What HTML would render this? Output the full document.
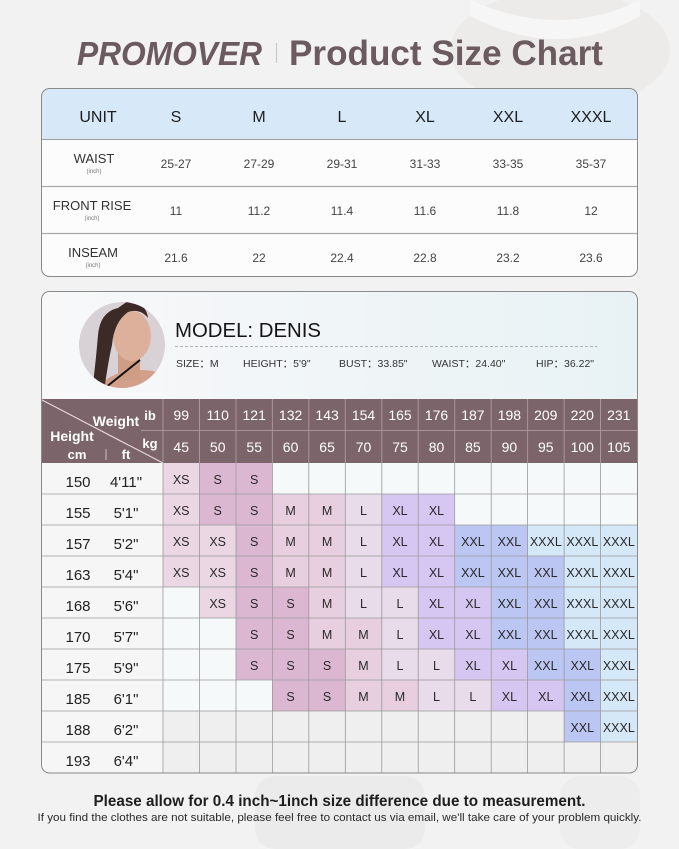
<!DOCTYPE html>
<html><head><meta charset="utf-8"><style>
html,body{margin:0;padding:0;background:#f2f2f2;}
svg{display:block;}
text{font-family:"Liberation Sans","Noto Sans CJK SC",sans-serif;}
.xs{fill:#ebd7e4}.s{fill:#dcb7d2}.m{fill:#e8cfdf}.l{fill:#e8dcea}.xl{fill:#d6c6f2}.xxl{fill:#bcc6f3}.xxxl{fill:#d5e8f8}
.t{font-size:12.5px;fill:#2a2a2a;text-anchor:middle}
.h{font-size:14px;fill:#ffffff;text-anchor:middle}
.c{font-size:15px;fill:#222;text-anchor:middle}
.tv{font-size:12px;fill:#444;text-anchor:middle}
.th{font-size:16px;fill:#1e1e1e;text-anchor:middle}
.tl{font-size:13px;fill:#333;text-anchor:middle}
.ti{font-size:6px;fill:#777;text-anchor:middle}
.st{font-size:10.5px;fill:#333}
</style></head><body>
<svg width="679" height="849" viewBox="0 0 679 849" xmlns="http://www.w3.org/2000/svg">
<defs>
<clipPath id="box2"><rect x="41.5" y="291.5" width="596" height="481.5" rx="8"/></clipPath>
<clipPath id="box1"><rect x="41.5" y="88.5" width="596" height="188" rx="8"/></clipPath>
<clipPath id="av"><circle cx="122" cy="345" r="43"/></clipPath>
<linearGradient id="mg" x1="0" y1="0" x2="1" y2="0"><stop offset="0" stop-color="#f8f8f9"/><stop offset="1" stop-color="#e8f2f5"/></linearGradient>
</defs>
<!-- background -->
<rect width="679" height="849" fill="#f2f2f2"/>
<ellipse cx="560" cy="50" rx="110" ry="60" fill="#ecebea"/>
<path d="M470 0 Q560 40 640 0 L640 16 Q560 62 470 16Z" fill="#f6f6f6"/>
<rect x="255" y="776" width="170" height="73" rx="20" fill="#ebebeb"/>
<rect x="560" y="776" width="80" height="73" rx="20" fill="#ededed"/>

<!-- title -->
<text x="77" y="65" font-size="33" font-weight="bold" font-style="italic" fill="#6b5b61" textLength="185" lengthAdjust="spacingAndGlyphs">PROMOVER</text>
<line x1="276.5" y1="43" x2="276.5" y2="63" stroke="#c9c1c3" stroke-width="1"/>
<text x="289" y="65" font-size="35" font-weight="bold" fill="#6b5b61" textLength="314" lengthAdjust="spacingAndGlyphs">Product Size Chart</text>

<!-- table 1 -->
<g clip-path="url(#box1)">
<rect x="41" y="88" width="597" height="190" fill="#fcfcfc"/>
<rect x="41" y="88" width="597" height="51" fill="#d7e8f8"/>
</g>
<line x1="41.5" y1="139.5" x2="637.5" y2="139.5" stroke="#9aa0a6" stroke-width="1"/>
<line x1="41.5" y1="186.5" x2="637.5" y2="186.5" stroke="#a8a8a8" stroke-width="1.2"/>
<line x1="41.5" y1="233.5" x2="637.5" y2="233.5" stroke="#a8a8a8" stroke-width="1.2"/>
<rect x="41.5" y="88.5" width="596" height="188" rx="8" fill="none" stroke="#8a8a8a" stroke-width="1"/>
<text class="th" x="98" y="122">UNIT</text>
<text class="th" x="176" y="122">S</text>
<text class="th" x="259" y="122">M</text>
<text class="th" x="342" y="122">L</text>
<text class="th" x="425" y="122">XL</text>
<text class="th" x="508" y="122">XXL</text>
<text class="th" x="591" y="122">XXXL</text>

<text class="tl" x="94" y="163">WAIST</text><text class="ti" x="94" y="173">(inch)</text>
<text class="tv" x="176" y="168">25-27</text><text class="tv" x="259" y="168">27-29</text><text class="tv" x="342" y="168">29-31</text><text class="tv" x="425" y="168">31-33</text><text class="tv" x="508" y="168">33-35</text><text class="tv" x="591" y="168">35-37</text>

<text class="tl" x="92" y="210">FRONT RISE</text><text class="ti" x="92" y="220">(inch)</text>
<text class="tv" x="176" y="215">11</text><text class="tv" x="259" y="215">11.2</text><text class="tv" x="342" y="215">11.4</text><text class="tv" x="425" y="215">11.6</text><text class="tv" x="508" y="215">11.8</text><text class="tv" x="591" y="215">12</text>

<text class="tl" x="93" y="257">INSEAM</text><text class="ti" x="93" y="267">(inch)</text>
<text class="tv" x="176" y="262">21.6</text><text class="tv" x="259" y="262">22</text><text class="tv" x="342" y="262">22.4</text><text class="tv" x="425" y="262">22.8</text><text class="tv" x="508" y="262">23.2</text><text class="tv" x="591" y="262">23.6</text>

<!-- box 2 -->
<g clip-path="url(#box2)">
<rect x="41" y="291" width="597" height="108" fill="url(#mg)"/>
<!-- avatar -->
<g clip-path="url(#av)">
<rect x="78" y="300" width="90" height="90" fill="#d8d1d6"/>
<ellipse cx="140" cy="398" rx="45" ry="28" fill="#d2a08a"/>
<rect x="118" y="350" width="22" height="30" fill="#cf9c86"/>
<ellipse cx="132" cy="336" rx="19" ry="25" fill="#ddb09b"/>
<path d="M118 308 Q100 312 98 335 Q96 360 92 392 L104 392 Q108 362 112 345 Q114 322 128 312 Q140 308 148 318 Q146 302 128 301Z" fill="#3b2a25"/>
<path d="M100 392 L140 360" stroke="#111" stroke-width="2"/>
</g>
<text x="175" y="337" font-size="20.5" fill="#141414" textLength="146" lengthAdjust="spacingAndGlyphs">MODEL: DENIS</text>
<line x1="175" y1="346.5" x2="597" y2="346.5" stroke="#9a9a9a" stroke-width="0.8" stroke-dasharray="3 2"/>
<text class="st" x="176" y="367">SIZE：M</text>
<text class="st" x="243" y="367">HEIGHT：5'9"</text>
<text class="st" x="339" y="367">BUST：33.85"</text>
<text class="st" x="432" y="367">WAIST：24.40"</text>
<text class="st" x="536" y="367">HIP：36.22"</text>

<!-- grid header -->
<rect x="41" y="399" width="597" height="64" fill="#7c646b"/>
<line x1="42" y1="400" x2="163" y2="463" stroke="#e2d8db" stroke-width="1.2"/>
<line x1="141" y1="430.5" x2="637" y2="430.5" stroke="#a8969c" stroke-width="1"/>
<g stroke="#a8969c" stroke-width="1">
<line x1="163" y1="399" x2="163" y2="463"/><line x1="199.5" y1="399" x2="199.5" y2="463"/><line x1="236" y1="399" x2="236" y2="463"/><line x1="272.4" y1="399" x2="272.4" y2="463"/><line x1="308.8" y1="399" x2="308.8" y2="463"/><line x1="345.3" y1="399" x2="345.3" y2="463"/><line x1="381.8" y1="399" x2="381.8" y2="463"/><line x1="418.2" y1="399" x2="418.2" y2="463"/><line x1="454.7" y1="399" x2="454.7" y2="463"/><line x1="491.2" y1="399" x2="491.2" y2="463"/><line x1="527.6" y1="399" x2="527.6" y2="463"/><line x1="564.1" y1="399" x2="564.1" y2="463"/><line x1="600.5" y1="399" x2="600.5" y2="463"/>
</g>
<text x="116" y="426" font-size="14" font-weight="bold" fill="#fff" text-anchor="middle">Weight</text>
<text x="150" y="420" font-size="13" font-weight="bold" fill="#fff" text-anchor="middle">ib</text>
<text x="150" y="448" font-size="13" font-weight="bold" fill="#fff" text-anchor="middle">kg</text>
<text x="72" y="441" font-size="14" font-weight="bold" fill="#fff" text-anchor="middle">Height</text>
<text x="77" y="459" font-size="13" font-weight="bold" fill="#fff" text-anchor="middle">cm</text>
<line x1="106" y1="449" x2="106" y2="460" stroke="#cbbfc3" stroke-width="1"/>
<text x="126" y="459" font-size="13" font-weight="bold" fill="#fff" text-anchor="middle">ft</text>

<text class="h" x="181.2" y="420">99</text><text class="h" x="217.7" y="420">110</text><text class="h" x="254.2" y="420">121</text><text class="h" x="290.6" y="420">132</text><text class="h" x="327.1" y="420">143</text><text class="h" x="363.5" y="420">154</text><text class="h" x="400" y="420">165</text><text class="h" x="436.5" y="420">176</text><text class="h" x="472.9" y="420">187</text><text class="h" x="509.4" y="420">198</text><text class="h" x="545.8" y="420">209</text><text class="h" x="582.3" y="420">220</text><text class="h" x="618.8" y="420">231</text>
<text class="h" x="181.2" y="452">45</text><text class="h" x="217.7" y="452">50</text><text class="h" x="254.2" y="452">55</text><text class="h" x="290.6" y="452">60</text><text class="h" x="327.1" y="452">65</text><text class="h" x="363.5" y="452">70</text><text class="h" x="400" y="452">75</text><text class="h" x="436.5" y="452">80</text><text class="h" x="472.9" y="452">85</text><text class="h" x="509.4" y="452">90</text><text class="h" x="545.8" y="452">95</text><text class="h" x="582.3" y="452">100</text><text class="h" x="618.8" y="452">105</text>

<!-- grid body bg -->
<rect x="41" y="463" width="122" height="311" fill="#f6f6f6"/>
<rect x="163" y="463" width="475" height="248" fill="#f6f9fa"/>
<rect x="163" y="711" width="475" height="63" fill="#efeff0"/>

<!-- row 0 -->
<rect class="xs" x="163" y="463" width="36.5" height="31"/><rect class="s" x="199.5" y="463" width="36.5" height="31"/><rect class="s" x="236" y="463" width="36.4" height="31"/>
<!-- row 1 -->
<rect class="xs" x="163" y="494" width="36.5" height="31"/><rect class="s" x="199.5" y="494" width="36.5" height="31"/><rect class="s" x="236" y="494" width="36.4" height="31"/><rect class="m" x="272.4" y="494" width="36.4" height="31"/><rect class="m" x="308.8" y="494" width="36.5" height="31"/><rect class="l" x="345.3" y="494" width="36.5" height="31"/><rect class="xl" x="381.8" y="494" width="36.4" height="31"/><rect class="xl" x="418.2" y="494" width="36.5" height="31"/>
<!-- row 2 -->
<rect class="xs" x="163" y="525" width="36.5" height="31"/><rect class="xs" x="199.5" y="525" width="36.5" height="31"/><rect class="s" x="236" y="525" width="36.4" height="31"/><rect class="m" x="272.4" y="525" width="36.4" height="31"/><rect class="m" x="308.8" y="525" width="36.5" height="31"/><rect class="l" x="345.3" y="525" width="36.5" height="31"/><rect class="xl" x="381.8" y="525" width="36.4" height="31"/><rect class="xl" x="418.2" y="525" width="36.5" height="31"/><rect class="xxl" x="454.7" y="525" width="36.5" height="31"/><rect class="xxl" x="491.2" y="525" width="36.4" height="31"/><rect class="xxxl" x="527.6" y="525" width="36.5" height="31"/><rect class="xxxl" x="564.1" y="525" width="36.4" height="31"/><rect class="xxxl" x="600.5" y="525" width="37" height="31"/>
<!-- row 3 -->
<rect class="xs" x="163" y="556" width="36.5" height="31"/><rect class="xs" x="199.5" y="556" width="36.5" height="31"/><rect class="s" x="236" y="556" width="36.4" height="31"/><rect class="m" x="272.4" y="556" width="36.4" height="31"/><rect class="m" x="308.8" y="556" width="36.5" height="31"/><rect class="l" x="345.3" y="556" width="36.5" height="31"/><rect class="xl" x="381.8" y="556" width="36.4" height="31"/><rect class="xl" x="418.2" y="556" width="36.5" height="31"/><rect class="xxl" x="454.7" y="556" width="36.5" height="31"/><rect class="xxl" x="491.2" y="556" width="36.4" height="31"/><rect class="xxl" x="527.6" y="556" width="36.5" height="31"/><rect class="xxxl" x="564.1" y="556" width="36.4" height="31"/><rect class="xxxl" x="600.5" y="556" width="37" height="31"/>
<!-- row 4 -->
<rect class="xs" x="199.5" y="587" width="36.5" height="31"/><rect class="s" x="236" y="587" width="36.4" height="31"/><rect class="s" x="272.4" y="587" width="36.4" height="31"/><rect class="m" x="308.8" y="587" width="36.5" height="31"/><rect class="l" x="345.3" y="587" width="36.5" height="31"/><rect class="l" x="381.8" y="587" width="36.4" height="31"/><rect class="xl" x="418.2" y="587" width="36.5" height="31"/><rect class="xl" x="454.7" y="587" width="36.5" height="31"/><rect class="xxl" x="491.2" y="587" width="36.4" height="31"/><rect class="xxl" x="527.6" y="587" width="36.5" height="31"/><rect class="xxxl" x="564.1" y="587" width="36.4" height="31"/><rect class="xxxl" x="600.5" y="587" width="37" height="31"/>
<!-- row 5 -->
<rect class="s" x="236" y="618" width="36.4" height="31"/><rect class="s" x="272.4" y="618" width="36.4" height="31"/><rect class="m" x="308.8" y="618" width="36.5" height="31"/><rect class="m" x="345.3" y="618" width="36.5" height="31"/><rect class="l" x="381.8" y="618" width="36.4" height="31"/><rect class="xl" x="418.2" y="618" width="36.5" height="31"/><rect class="xl" x="454.7" y="618" width="36.5" height="31"/><rect class="xxl" x="491.2" y="618" width="36.4" height="31"/><rect class="xxl" x="527.6" y="618" width="36.5" height="31"/><rect class="xxxl" x="564.1" y="618" width="36.4" height="31"/><rect class="xxxl" x="600.5" y="618" width="37" height="31"/>
<!-- row 6 -->
<rect class="s" x="236" y="649" width="36.4" height="31"/><rect class="s" x="272.4" y="649" width="36.4" height="31"/><rect class="s" x="308.8" y="649" width="36.5" height="31"/><rect class="m" x="345.3" y="649" width="36.5" height="31"/><rect class="l" x="381.8" y="649" width="36.4" height="31"/><rect class="l" x="418.2" y="649" width="36.5" height="31"/><rect class="xl" x="454.7" y="649" width="36.5" height="31"/><rect class="xl" x="491.2" y="649" width="36.4" height="31"/><rect class="xxl" x="527.6" y="649" width="36.5" height="31"/><rect class="xxl" x="564.1" y="649" width="36.4" height="31"/><rect class="xxxl" x="600.5" y="649" width="37" height="31"/>
<!-- row 7 -->
<rect class="s" x="272.4" y="680" width="36.4" height="31"/><rect class="s" x="308.8" y="680" width="36.5" height="31"/><rect class="m" x="345.3" y="680" width="36.5" height="31"/><rect class="m" x="381.8" y="680" width="36.4" height="31"/><rect class="l" x="418.2" y="680" width="36.5" height="31"/><rect class="l" x="454.7" y="680" width="36.5" height="31"/><rect class="xl" x="491.2" y="680" width="36.4" height="31"/><rect class="xl" x="527.6" y="680" width="36.5" height="31"/><rect class="xxl" x="564.1" y="680" width="36.4" height="31"/><rect class="xxxl" x="600.5" y="680" width="37" height="31"/>
<!-- row 8 -->
<rect class="xxl" x="564.1" y="711" width="36.4" height="31"/><rect class="xxxl" x="600.5" y="711" width="37" height="31"/>

<!-- grid lines -->
<g stroke="#9a9a9a" stroke-width="0.8">
<line x1="41" y1="494" x2="638" y2="494"/><line x1="41" y1="525" x2="638" y2="525"/><line x1="41" y1="556" x2="638" y2="556"/><line x1="41" y1="587" x2="638" y2="587"/><line x1="41" y1="618" x2="638" y2="618"/><line x1="41" y1="649" x2="638" y2="649"/><line x1="41" y1="680" x2="638" y2="680"/><line x1="41" y1="711" x2="638" y2="711"/><line x1="41" y1="742" x2="638" y2="742"/>
<line x1="163" y1="463" x2="163" y2="774"/><line x1="199.5" y1="463" x2="199.5" y2="774"/><line x1="236" y1="463" x2="236" y2="774"/><line x1="272.4" y1="463" x2="272.4" y2="774"/><line x1="308.8" y1="463" x2="308.8" y2="774"/><line x1="345.3" y1="463" x2="345.3" y2="774"/><line x1="381.8" y1="463" x2="381.8" y2="774"/><line x1="418.2" y1="463" x2="418.2" y2="774"/><line x1="454.7" y1="463" x2="454.7" y2="774"/><line x1="491.2" y1="463" x2="491.2" y2="774"/><line x1="527.6" y1="463" x2="527.6" y2="774"/><line x1="564.1" y1="463" x2="564.1" y2="774"/><line x1="600.5" y1="463" x2="600.5" y2="774"/>
</g>

<!-- left labels -->
<text class="c" x="78" y="487">150</text><text class="c" x="126" y="487">4'11"</text>
<text class="c" x="78" y="518">155</text><text class="c" x="126" y="518">5'1"</text>
<text class="c" x="78" y="549">157</text><text class="c" x="126" y="549">5'2"</text>
<text class="c" x="78" y="580">163</text><text class="c" x="126" y="580">5'4"</text>
<text class="c" x="78" y="611">168</text><text class="c" x="126" y="611">5'6"</text>
<text class="c" x="78" y="642">170</text><text class="c" x="126" y="642">5'7"</text>
<text class="c" x="78" y="673">175</text><text class="c" x="126" y="673">5'9"</text>
<text class="c" x="78" y="704">185</text><text class="c" x="126" y="704">6'1"</text>
<text class="c" x="78" y="735">188</text><text class="c" x="126" y="735">6'2"</text>
<text class="c" x="78" y="766">193</text><text class="c" x="126" y="766">6'4"</text>

<!-- cell texts -->
<text class="t" x="181.2" y="484">XS</text><text class="t" x="217.7" y="484">S</text><text class="t" x="254.2" y="484">S</text>

<text class="t" x="181.2" y="515">XS</text><text class="t" x="217.7" y="515">S</text><text class="t" x="254.2" y="515">S</text><text class="t" x="290.6" y="515">M</text><text class="t" x="327.1" y="515">M</text><text class="t" x="363.5" y="515">L</text><text class="t" x="400" y="515">XL</text><text class="t" x="436.5" y="515">XL</text>

<text class="t" x="181.2" y="546">XS</text><text class="t" x="217.7" y="546">XS</text><text class="t" x="254.2" y="546">S</text><text class="t" x="290.6" y="546">M</text><text class="t" x="327.1" y="546">M</text><text class="t" x="363.5" y="546">L</text><text class="t" x="400" y="546">XL</text><text class="t" x="436.5" y="546">XL</text><text class="t" x="472.9" y="546">XXL</text><text class="t" x="509.4" y="546">XXL</text><text class="t" x="545.8" y="546">XXXL</text><text class="t" x="582.3" y="546">XXXL</text><text class="t" x="618.8" y="546">XXXL</text>

<text class="t" x="181.2" y="577">XS</text><text class="t" x="217.7" y="577">XS</text><text class="t" x="254.2" y="577">S</text><text class="t" x="290.6" y="577">M</text><text class="t" x="327.1" y="577">M</text><text class="t" x="363.5" y="577">L</text><text class="t" x="400" y="577">XL</text><text class="t" x="436.5" y="577">XL</text><text class="t" x="472.9" y="577">XXL</text><text class="t" x="509.4" y="577">XXL</text><text class="t" x="545.8" y="577">XXL</text><text class="t" x="582.3" y="577">XXXL</text><text class="t" x="618.8" y="577">XXXL</text>

<text class="t" x="217.7" y="608">XS</text><text class="t" x="254.2" y="608">S</text><text class="t" x="290.6" y="608">S</text><text class="t" x="327.1" y="608">M</text><text class="t" x="363.5" y="608">L</text><text class="t" x="400" y="608">L</text><text class="t" x="436.5" y="608">XL</text><text class="t" x="472.9" y="608">XL</text><text class="t" x="509.4" y="608">XXL</text><text class="t" x="545.8" y="608">XXL</text><text class="t" x="582.3" y="608">XXXL</text><text class="t" x="618.8" y="608">XXXL</text>

<text class="t" x="254.2" y="639">S</text><text class="t" x="290.6" y="639">S</text><text class="t" x="327.1" y="639">M</text><text class="t" x="363.5" y="639">M</text><text class="t" x="400" y="639">L</text><text class="t" x="436.5" y="639">XL</text><text class="t" x="472.9" y="639">XL</text><text class="t" x="509.4" y="639">XXL</text><text class="t" x="545.8" y="639">XXL</text><text class="t" x="582.3" y="639">XXXL</text><text class="t" x="618.8" y="639">XXXL</text>

<text class="t" x="254.2" y="670">S</text><text class="t" x="290.6" y="670">S</text><text class="t" x="327.1" y="670">S</text><text class="t" x="363.5" y="670">M</text><text class="t" x="400" y="670">L</text><text class="t" x="436.5" y="670">L</text><text class="t" x="472.9" y="670">XL</text><text class="t" x="509.4" y="670">XL</text><text class="t" x="545.8" y="670">XXL</text><text class="t" x="582.3" y="670">XXL</text><text class="t" x="618.8" y="670">XXXL</text>

<text class="t" x="290.6" y="701">S</text><text class="t" x="327.1" y="701">S</text><text class="t" x="363.5" y="701">M</text><text class="t" x="400" y="701">M</text><text class="t" x="436.5" y="701">L</text><text class="t" x="472.9" y="701">L</text><text class="t" x="509.4" y="701">XL</text><text class="t" x="545.8" y="701">XL</text><text class="t" x="582.3" y="701">XXL</text><text class="t" x="618.8" y="701">XXXL</text>

<text class="t" x="582.3" y="732">XXL</text><text class="t" x="618.8" y="732">XXXL</text>
</g>
<rect x="41.5" y="291.5" width="596" height="481.5" rx="8" fill="none" stroke="#8a8a8a" stroke-width="1"/>

<!-- footer -->
<text x="339.5" y="806" font-size="15.5" font-weight="bold" fill="#1e1e1e" text-anchor="middle" textLength="492" lengthAdjust="spacingAndGlyphs">Please allow for 0.4 inch~1inch size difference due to measurement.</text>
<text x="339.5" y="821" font-size="11" fill="#2a2a2a" text-anchor="middle" textLength="604" lengthAdjust="spacingAndGlyphs">If you find the clothes  are not suitable, please feel free to contact us via email, we'll take care of your problem quickly.</text>
</svg>
</body></html>
